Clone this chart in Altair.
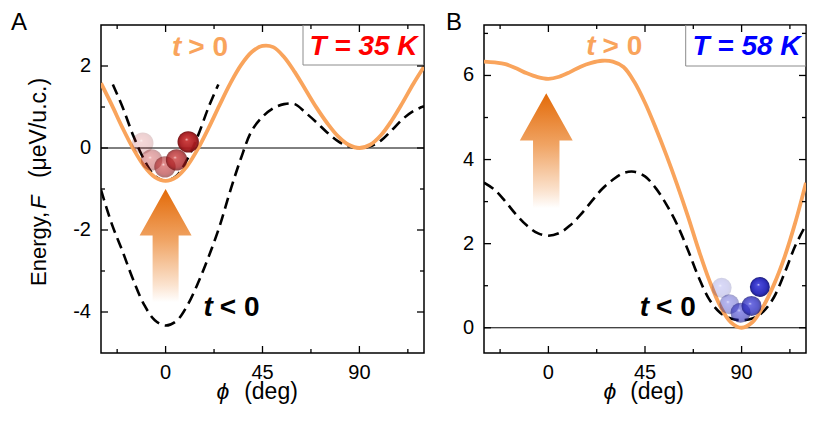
import altair as alt
import pandas as pd

# ---------------- data ----------------
phi = [-30, -25, -20, -15, -10, -5, 0, 5, 10, 15, 20, 25, 30, 35, 40, 45, 50, 55, 60,
       65, 70, 75, 80, 85, 90, 95, 100, 105, 110, 115, 120]

# panel A (T = 35 K)
a_after = [1.58, 1.05, 0.49, -0.02, -0.44, -0.71, -0.80, -0.71, -0.44, -0.02, 0.49, 1.04,
           1.57, 2.02, 2.34, 2.49, 2.46, 2.22, 1.85, 1.42, 0.99, 0.61, 0.29, 0.08, 0.00,
           0.08, 0.31, 0.67, 1.10, 1.56, 1.98]
a_before = [-1.02, -1.85, -2.52, -3.22, -3.82, -4.20, -4.33, -4.22, -3.85, -3.30, -2.65,
            -1.92, -1.05, -0.25, 0.42, 0.76, 0.97, 1.07, 1.07, 0.86, 0.63, 0.38, 0.17,
            0.04, 0.00, 0.04, 0.18, 0.43, 0.70, 0.90, 1.02]
a_well_phi = [-24.5, -20, -15, -10, -5, 0, 5, 10, 15, 20, 24.5]
a_well = [1.55, 1.00, 0.30, -0.28, -0.68, -0.80, -0.68, -0.28, 0.30, 1.00, 1.55]
a_balls_phi = [-10.6, -6.5, -0.3, 5.1, 10.5]
a_balls_F = [0.12, -0.29, -0.46, -0.29, 0.15]

# panel B (T = 58 K)
b_after = [6.33, 6.31, 6.27, 6.17, 6.05, 5.96, 5.92, 5.97, 6.08, 6.21, 6.30, 6.35, 6.33,
           6.20, 5.85, 5.35, 4.75, 4.10, 3.40, 2.65, 1.85, 1.12, 0.52, 0.13, 0.00, 0.13,
           0.50, 1.02, 1.68, 2.50, 3.45]
b_before = [3.45, 3.28, 3.00, 2.69, 2.43, 2.25, 2.19, 2.25, 2.43, 2.69, 3.00, 3.30, 3.52,
            3.68, 3.71, 3.60, 3.32, 2.93, 2.45, 1.85, 1.20, 0.67, 0.36, 0.22, 0.18, 0.22,
            0.38, 0.72, 1.30, 1.95, 2.45]
b_balls_phi = [80.7, 84.3, 89.5, 94.6, 98.5]
b_balls_F = [0.95, 0.56, 0.36, 0.52, 0.97]

ball_order = [1, 2, 3, 4, 5]

x_domain = [-30, 120]
x_major = [0, 45, 90]
x_minor = [-22.5, 22.5, 67.5, 112.5]
x_labels = ["0", "45", "90"]
a_y_domain = [-5, 3]
a_y_major = [-4, -2, 0, 2]
a_y_minor = [-3, -1, 1]
a_y_labels = ["-4", "-2", "0", "2"]
b_y_domain = [-0.6, 7.2]
b_y_major = [0, 2, 4, 6]
b_y_minor = [1, 3, 5, 7]
b_y_labels = ["0", "2", "4", "6"]

panel_letters = ["A", "B"]
temps = ["T = 35 K", "T = 58 K"]
after_label = ["t", "> 0"]
before_label = ["t", "< 0"]
y_title = ["Energy,", "F", "(\u03bceV/u.c.)"]
x_title = ["\u03d5", "(deg)"]

# ---------------- style ----------------
ORANGE = "#F9A45C"
FONT = "Liberation Sans"
H = 328
W_A = 323
W_B = 322
MAJ = 7
MIN = 4
ARROW = "M0,-1L0.46,-0.18L0.23,-0.18L0.23,1L-0.23,1L-0.23,-0.18L-0.46,-0.18Z"

arrow_grad = alt.LinearGradient(
    gradient="linear", x1=0, y1=1, x2=0, y2=0,
    stops=[alt.GradientStop(offset=0, color="#FFFFFF"),
           alt.GradientStop(offset=0.15, color="#FBE3CF"),
           alt.GradientStop(offset=0.55, color="#F0A464"),
           alt.GradientStop(offset=1, color="#E36A08")])


def ball_grad(c0, c1, c2, c3):
    return alt.RadialGradient(
        gradient="radial", x1=0.42, y1=0.38, r1=0, x2=0.5, y2=0.5, r2=0.5,
        stops=[alt.GradientStop(offset=0, color=c0),
               alt.GradientStop(offset=0.15, color=c1),
               alt.GradientStop(offset=0.75, color=c2),
               alt.GradientStop(offset=1, color=c3)])


red_ball = ball_grad("#F8C8C8", "#C83434", "#A81A1E", "#6E0E10")
blue_ball = ball_grad("#D0D0FF", "#4040D8", "#2424B8", "#121272")


def txt(s, x, y, size, color="black", weight="normal", style="normal",
        align="left", baseline="alphabetic", angle=0):
    return alt.Chart(pd.DataFrame({"s": [s]})).mark_text(
        font=FONT, fontSize=size, color=color, fontWeight=weight, fontStyle=style,
        align=align, baseline=baseline, angle=angle
    ).encode(x=alt.value(x), y=alt.value(y), text="s:N")


def panel(W, ydom, y_major, y_minor, y_labels, after, before, balls_phi, balls_F, grad,
          ball_size, arrow_xy, letter, letter_x, temp, temp_color, box_x, box_y2,
          gt_xy, lt_xy, xt_x, well=None, ytitle=False):
    xs = alt.Scale(domain=x_domain, nice=False, zero=False)
    ys = alt.Scale(domain=ydom, nice=False, zero=False)
    X = lambda f: alt.X(f, scale=xs, axis=None)
    Y = lambda f: alt.Y(f, scale=ys, axis=None)

    # tick labels, placed through the scales
    xl = alt.Chart(pd.DataFrame({"xv": x_major, "s": x_labels})).mark_text(
        font=FONT, fontSize=20, color="black", align="center", baseline="top"
    ).encode(x=X("xv:Q"), y=alt.value(H + 10), text="s:N")
    yl = alt.Chart(pd.DataFrame({"yv": y_major, "s": y_labels})).mark_text(
        font=FONT, fontSize=20, color="black", align="right", baseline="middle"
    ).encode(y=Y("yv:Q"), x=alt.value(-10), text="s:N")

    # inward ticks on all four sides, as short rule segments in data space
    ypx = (ydom[1] - ydom[0]) / H          # data units per pixel (y)
    xpx = (x_domain[1] - x_domain[0]) / W  # data units per pixel (x)
    xrows = []
    for vals, L in ((x_major, MAJ), (x_minor, MIN)):
        for v in vals:
            xrows.append({"v": v, "a": ydom[0], "b": ydom[0] + L * ypx})
            xrows.append({"v": v, "a": ydom[1], "b": ydom[1] - L * ypx})
    yrows = []
    for vals, L in ((y_major, MAJ), (y_minor, MIN)):
        for v in vals:
            yrows.append({"v": v, "a": x_domain[0], "b": x_domain[0] + L * xpx})
            yrows.append({"v": v, "a": x_domain[1], "b": x_domain[1] - L * xpx})
    xtk = alt.Chart(pd.DataFrame(xrows)).mark_rule(color="black", strokeWidth=1.3).encode(
        x=X("v:Q"), y=Y("a:Q"), y2="b")
    ytk = alt.Chart(pd.DataFrame(yrows)).mark_rule(color="black", strokeWidth=1.3).encode(
        y=Y("v:Q"), x=X("a:Q"), x2="b")

    arrow = alt.Chart(pd.DataFrame({"x": [arrow_xy[0]], "y": [arrow_xy[1]]})).mark_point(
        shape=ARROW, size=arrow_xy[2] ** 2, filled=True, fill=arrow_grad, opacity=1,
        strokeWidth=0).encode(x=X("x:Q"), y=Y("y:Q"))
    zero = alt.Chart(pd.DataFrame({"y": [0]})).mark_rule(
        color="black", strokeWidth=1).encode(y=Y("y:Q"))
    curves = pd.DataFrame({"phi": phi, "after": after, "before": before})
    dash = dict(color="black", strokeWidth=2.6, strokeDash=[11, 6],
                interpolate="catmull-rom", clip=True)
    l_before = alt.Chart(curves).mark_line(**dash).encode(x=X("phi:Q"), y=Y("before:Q"))
    l_after = alt.Chart(curves).mark_line(
        color=ORANGE, strokeWidth=3.8, interpolate="catmull-rom", clip=True
    ).encode(x=X("phi:Q"), y=Y("after:Q"))
    balls = alt.Chart(pd.DataFrame({"phi": balls_phi, "F": balls_F, "k": ball_order})).mark_point(
        shape="circle", filled=True, fill=grad, size=ball_size, strokeWidth=0
    ).encode(x=X("phi:Q"), y=Y("F:Q"),
             opacity=alt.Opacity("k:Q", scale=alt.Scale(domain=[1, 5], range=[0.2, 0.95]),
                                 legend=None),
             order=alt.Order("k:Q"))
    one = pd.DataFrame({"s": [0]})
    box = alt.Chart(one).mark_rect(fill="white", strokeWidth=0).encode(
        x=alt.value(box_x), x2=alt.value(W - 0.75), y=alt.value(0.75), y2=alt.value(box_y2))
    box_l = alt.Chart(one).mark_rule(color="#8C8C8C", strokeWidth=1).encode(
        x=alt.value(box_x), y=alt.value(0), y2=alt.value(box_y2))
    box_b = alt.Chart(one).mark_rule(color="#8C8C8C", strokeWidth=1).encode(
        x=alt.value(box_x), x2=alt.value(W), y=alt.value(box_y2))

    layers = [arrow, zero, l_before]
    if well is not None:
        wdf = pd.DataFrame({"phi": well[0], "F": well[1]})
        layers.append(alt.Chart(wdf).mark_line(**dash).encode(x=X("phi:Q"), y=Y("F:Q")))
    layers += [l_after, balls, box, box_l, box_b, xtk, ytk]

    texts = [
        txt(letter, letter_x, -14, 24, baseline="top"),
        txt(temp, 262.5, box_y2 / 2 + 1.8, 28, color=temp_color, weight="bold",
            style="italic", align="center", baseline="middle"),
        txt(after_label[0], gt_xy[0], gt_xy[1], 28, color=ORANGE, weight="bold",
            style="italic", baseline="middle"),
        txt(after_label[1], gt_xy[0] + 16.3, gt_xy[1], 28, color=ORANGE, weight="bold",
            baseline="middle"),
        txt(before_label[0], lt_xy[0], lt_xy[1], 28, weight="bold", style="italic",
            baseline="middle"),
        txt(before_label[1], lt_xy[0] + 16.3, lt_xy[1], 28, weight="bold",
            baseline="middle"),
        txt(x_title[0], xt_x[0], 374, 23, style="italic", align="center"),
        txt(x_title[1], xt_x[1], 374, 23, align="center"),
    ]
    if ytitle:
        texts += [
            txt(y_title[0], -55, 261, 22, align="left", angle=270),
            txt(y_title[1], -55, 184, 22, style="italic", align="left", angle=270),
            txt(y_title[2], -55, 103, 23, align="center", angle=270),
        ]
    layers += texts + [xl, yl]
    return alt.layer(*layers).properties(width=W, height=H)


pA = panel(W_A, a_y_domain, a_y_major, a_y_minor, a_y_labels, a_after, a_before,
           a_balls_phi, a_balls_F, red_ball, 458, (0, -2.38, 113), panel_letters[0], -90,
           temps[0], "#FF0000", 202, 40, (71, 22.6), (102.5, 283.4), (122, 170),
           well=(a_well_phi, a_well), ytitle=True)
pB = panel(W_B, b_y_domain, b_y_major, b_y_minor, b_y_labels, b_after, b_before,
           b_balls_phi, b_balls_F, blue_ball, 400, (-1, 4.21, 115), panel_letters[1], -38,
           temps[1], "#0000FF", 201.7, 41, (102.3, 21.6), (155.7, 283.4), (126, 173))

chart = alt.hconcat(pA, pB, spacing=19).properties(
    padding={"left": 2, "top": 2, "right": 0, "bottom": 0}, background="white"
).configure_view(stroke="black", strokeWidth=1.5)

chart.save("out.html", embed_options={"renderer": "svg", "actions": False})
